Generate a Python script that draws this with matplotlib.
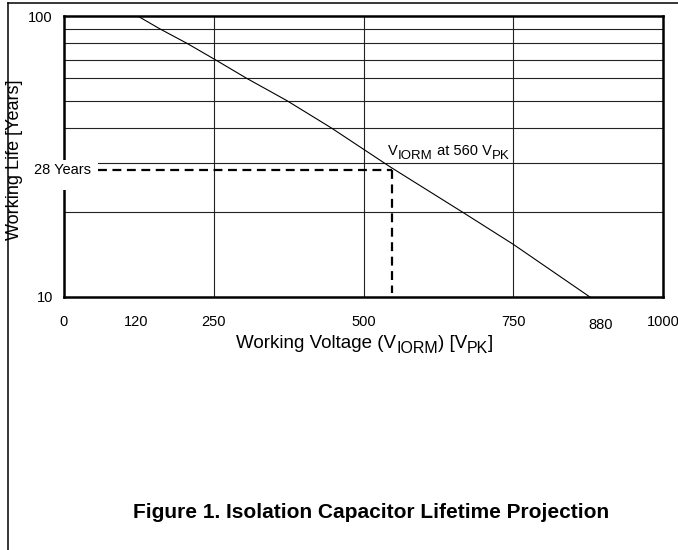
import matplotlib
matplotlib.use("Agg")
import matplotlib.pyplot as plt
import matplotlib.transforms as mtransforms
from matplotlib.lines import Line2D
from matplotlib.patches import Rectangle

plt.rcParams['font.family'] = ['Liberation Sans', 'DejaVu Sans']

# lifetime curve
volts = [123, 160, 205, 252, 305, 372, 446, 545, 666, 750, 878]
life = [100, 90, 80, 70, 60, 50, 40, 29, 20, 15.4, 10]

x_ticks = [0, 120, 250, 500, 750, 880, 1000]
x_tick_labels = ['0', '120', '250', '500', '750', '880', '1000']
y_ticks = [10, 100]
y_tick_labels = ['10', '100']
grid_x = [250, 500, 750]
grid_y = [20, 30, 40, 50, 60, 70, 80, 90]

# operating point marked with dashes
op_volt = 547
op_life = 28.3
life_label = '28 Years'
# (text, is_subscript)
op_label = [('V', False), ('IORM', True), (' at 560 V', False), ('PK', True)]
xlabel_parts = [('Working Voltage (V', False), ('IORM', True), (') [V', False),
                ('PK', True), (']', False)]


def rich_text(ax, x, y, parts, size, sub_size, sub_drop, coords):
    """draw text pieces one after another, subscripts smaller and lowered"""
    prev = ax.annotate(parts[0][0], xy=(x, y), xycoords=coords, ha='left',
                       va='baseline', fontsize=sub_size if parts[0][1] else size,
                       annotation_clip=False, zorder=5)
    for s, is_sub in parts[1:]:
        prev = ax.annotate(s, xy=(1, y), xycoords=(prev, coords),
                           xytext=(0, -sub_drop if is_sub else 0),
                           textcoords='offset points', ha='left', va='baseline',
                           fontsize=sub_size if is_sub else size,
                           annotation_clip=False, zorder=5)
    return prev


W, H = 678, 550
fig = plt.figure(figsize=(W / 100, H / 100), dpi=100)
ax = fig.add_axes([64 / W, 1 - 297 / H, 599 / W, 281 / H])

ax.set_yscale('log')
ax.set_xlim(0, 1000)
ax.set_ylim(10, 100)

for gx in grid_x:
    ax.axvline(gx, color='#222222', lw=0.8, zorder=1)
for gy in grid_y:
    ax.axhline(gy, color='#222222', lw=0.8, zorder=1)

ax.plot(volts, life, color='black', lw=0.8, zorder=2)

# dashed guide lines
ax.plot([57, op_volt], [op_life, op_life], color='black', lw=1.6,
        linestyle=(0, (4, 2.5)), zorder=4)
ax.plot([op_volt, op_volt], [op_life, 10.3], color='black', lw=1.6,
        linestyle=(0, (4, 2.5)), zorder=4)

# white box behind the "28 Years" label
ax.add_patch(Rectangle((-57, 24.0), 114, 6.7, facecolor='white', edgecolor='none',
                       clip_on=False, zorder=3))
ax.text(-3, op_life, life_label, ha='center', va='center', fontsize=10.5,
        clip_on=False, zorder=5)

rich_text(ax, 541, 32, op_label, 10.5, 9.5, 3, 'data')

ax.set_xticks(x_ticks)
ax.set_xticklabels(x_tick_labels)
ax.set_yticks(y_ticks)
ax.set_yticklabels(y_tick_labels)
ax.yaxis.set_minor_locator(matplotlib.ticker.NullLocator())
ax.tick_params(axis='both', length=0, labelsize=10.5)
ax.tick_params(axis='x', pad=13)
ax.tick_params(axis='y', pad=8)

# the 880 label sits a little right and lower in the original
lbl = ax.get_xticklabels()[5]
lbl.set_transform(lbl.get_transform() + mtransforms.ScaledTranslation(10 / 100, -3 / 100, fig.dpi_scale_trans))

for sp in ax.spines.values():
    sp.set_linewidth(1.8)

# x label built from pieces so the subscripts keep the original size
rich_text(ax, 236, H - 348, xlabel_parts, 13.5, 11.5, 3.5, 'figure pixels')
ax.set_ylabel('Working Life [Years]', fontsize=13)
ax.yaxis.set_label_coords(-0.068, 0.49)

fig.text(371 / W, 1 - 512 / H, 'Figure 1. Isolation Capacitor Lifetime Projection',
         ha='center', va='center', fontsize=15, fontweight='bold')

# page frame on the left and top
fig.add_artist(Line2D([8 / W, 8 / W], [0, 1 - 3 / H], color='black', lw=1.1,
                      transform=fig.transFigure))
fig.add_artist(Line2D([8 / W, 1], [1 - 3 / H, 1 - 3 / H], color='black', lw=1.1,
                      transform=fig.transFigure))

fig.savefig('out.png', dpi=100)
